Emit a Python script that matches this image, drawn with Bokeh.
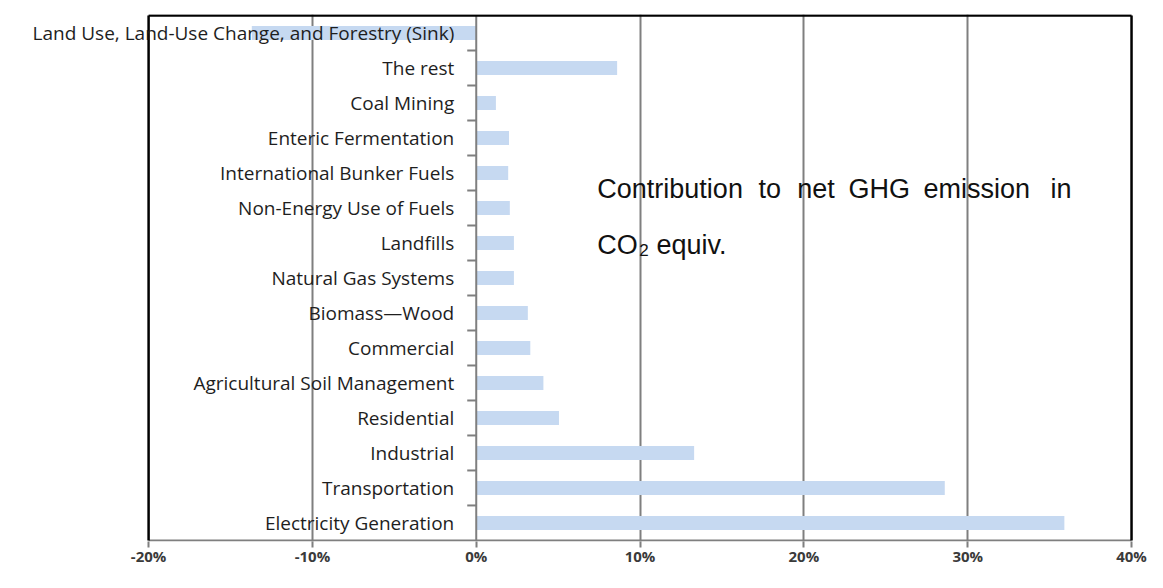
from bokeh.plotting import figure
from bokeh.models import (Label, FixedTicker, NumeralTickFormatter, Range1d)
from bokeh.embed import file_html
from bokeh.resources import INLINE

# ---- data (top to bottom as shown) ----
categories = [
    "Land Use, Land-Use Change, and Forestry (Sink)",
    "The rest",
    "Coal Mining",
    "Enteric Fermentation",
    "International Bunker Fuels",
    "Non-Energy Use of Fuels",
    "Landfills",
    "Natural Gas Systems",
    "Biomass\u2014Wood",
    "Commercial",
    "Agricultural Soil Management",
    "Residential",
    "Industrial",
    "Transportation",
    "Electricity Generation",
]
shares = [-0.137, 0.086, 0.012, 0.020, 0.0195, 0.0205, 0.023, 0.023,
          0.0315, 0.033, 0.041, 0.0505, 0.133, 0.286, 0.359]
x_ticks = [-0.2, -0.1, 0.0, 0.1, 0.2, 0.3, 0.4]
grid_ticks = [-0.1, 0.1, 0.2, 0.3]
x_lo, x_hi = -0.2, 0.4

n = len(categories)
ypos = [n - 1 - i for i in range(n)]
bounds = [i + 0.5 for i in range(n - 1)]
y_lo, y_hi = -0.5, n - 0.5

# frame extends left to the canvas edge so the long label is not clipped
p = figure(width=1147, height=572, output_backend="svg", toolbar_location=None,
           x_range=Range1d(-0.2904, 0.4012), y_range=Range1d(-0.53, n - 0.47),
           y_axis_type=None,
           min_border_left=0, min_border_right=14, min_border_top=14,
           min_border_bottom=31)
p.outline_line_color = None
p.background_fill_color = "white"
p.border_fill_color = "white"

# grid
p.ygrid.visible = False
p.xgrid.ticker = FixedTicker(ticks=grid_ticks)
p.xgrid.grid_line_color = "#7f7f7f"
p.xgrid.grid_line_width = 2

# x axis
p.xaxis.ticker = FixedTicker(ticks=x_ticks)
p.xaxis.formatter = NumeralTickFormatter(format="0%")
p.xaxis.axis_line_color = None
p.xaxis.major_tick_line_color = "#7f7f7f"
p.xaxis.major_tick_line_width = 2
p.xaxis.major_tick_out = 6
p.xaxis.major_tick_in = 0
p.xaxis.minor_tick_line_color = None
p.xaxis.major_label_standoff = -2
p.xaxis.major_label_text_font = "Open Sans"
p.xaxis.major_label_text_font_size = "15px"
p.xaxis.major_label_text_font_style = "bold"
p.xaxis.major_label_text_color = "#3a3a3a"

# bottom axis line (gray) over the plotted span only
p.segment(x0=[x_lo], x1=[x_hi], y0=[y_lo], y1=[y_lo], line_color="#7f7f7f", line_width=2)

# bars
p.hbar(y=ypos, left=0, right=shares, height=0.4,
       fill_color="#c6d9f1", line_color=None)

# zero axis line with category ticks
p.segment(x0=[0], x1=[0], y0=[y_lo], y1=[y_hi], line_color="#7f7f7f", line_width=2)
p.segment(x0=[-0.0055] * len(bounds), x1=[0.0] * len(bounds), y0=bounds, y1=bounds,
          line_color="#7f7f7f", line_width=2)

# black frame (left, right, top)
p.segment(x0=[x_lo, x_hi, x_lo], x1=[x_lo, x_hi, x_hi],
          y0=[y_lo, y_lo, y_hi], y1=[y_hi, y_hi, y_hi],
          line_color="black", line_width=2.5)

# category labels
for cat, yy in zip(categories, ypos):
    p.add_layout(Label(x=0, y=yy, text=cat, x_offset=-22,
                       text_align="right", text_baseline="middle",
                       text_font="Open Sans", text_font_size="19px",
                       text_color="#1e1e1e"))

# annotation text
words = [("Contribution", 0.0739), ("to", 0.1723), ("net", 0.196),
         ("GHG", 0.2272), ("emission", 0.273), ("in", 0.3506)]
for w, xx in words:
    p.add_layout(Label(x=xx, y=9.53, text=w, text_font="Liberation Sans",
                       text_font_size="27px", text_color="#111111",
                       text_baseline="alphabetic", text_align="left"))
p.add_layout(Label(x=0.0739, y=7.95, text="CO", text_font="Liberation Sans",
                   text_font_size="27px", text_color="#111111",
                   text_baseline="alphabetic"))
p.add_layout(Label(x=0.0995, y=7.79, text="2", text_font="Liberation Sans",
                   text_font_size="17px", text_color="#111111",
                   text_baseline="alphabetic"))
p.add_layout(Label(x=0.1100, y=7.95, text="equiv.", text_font="Liberation Sans",
                   text_font_size="27px", text_color="#111111",
                   text_baseline="alphabetic"))

open("out.html", "w").write(file_html(p, INLINE))
